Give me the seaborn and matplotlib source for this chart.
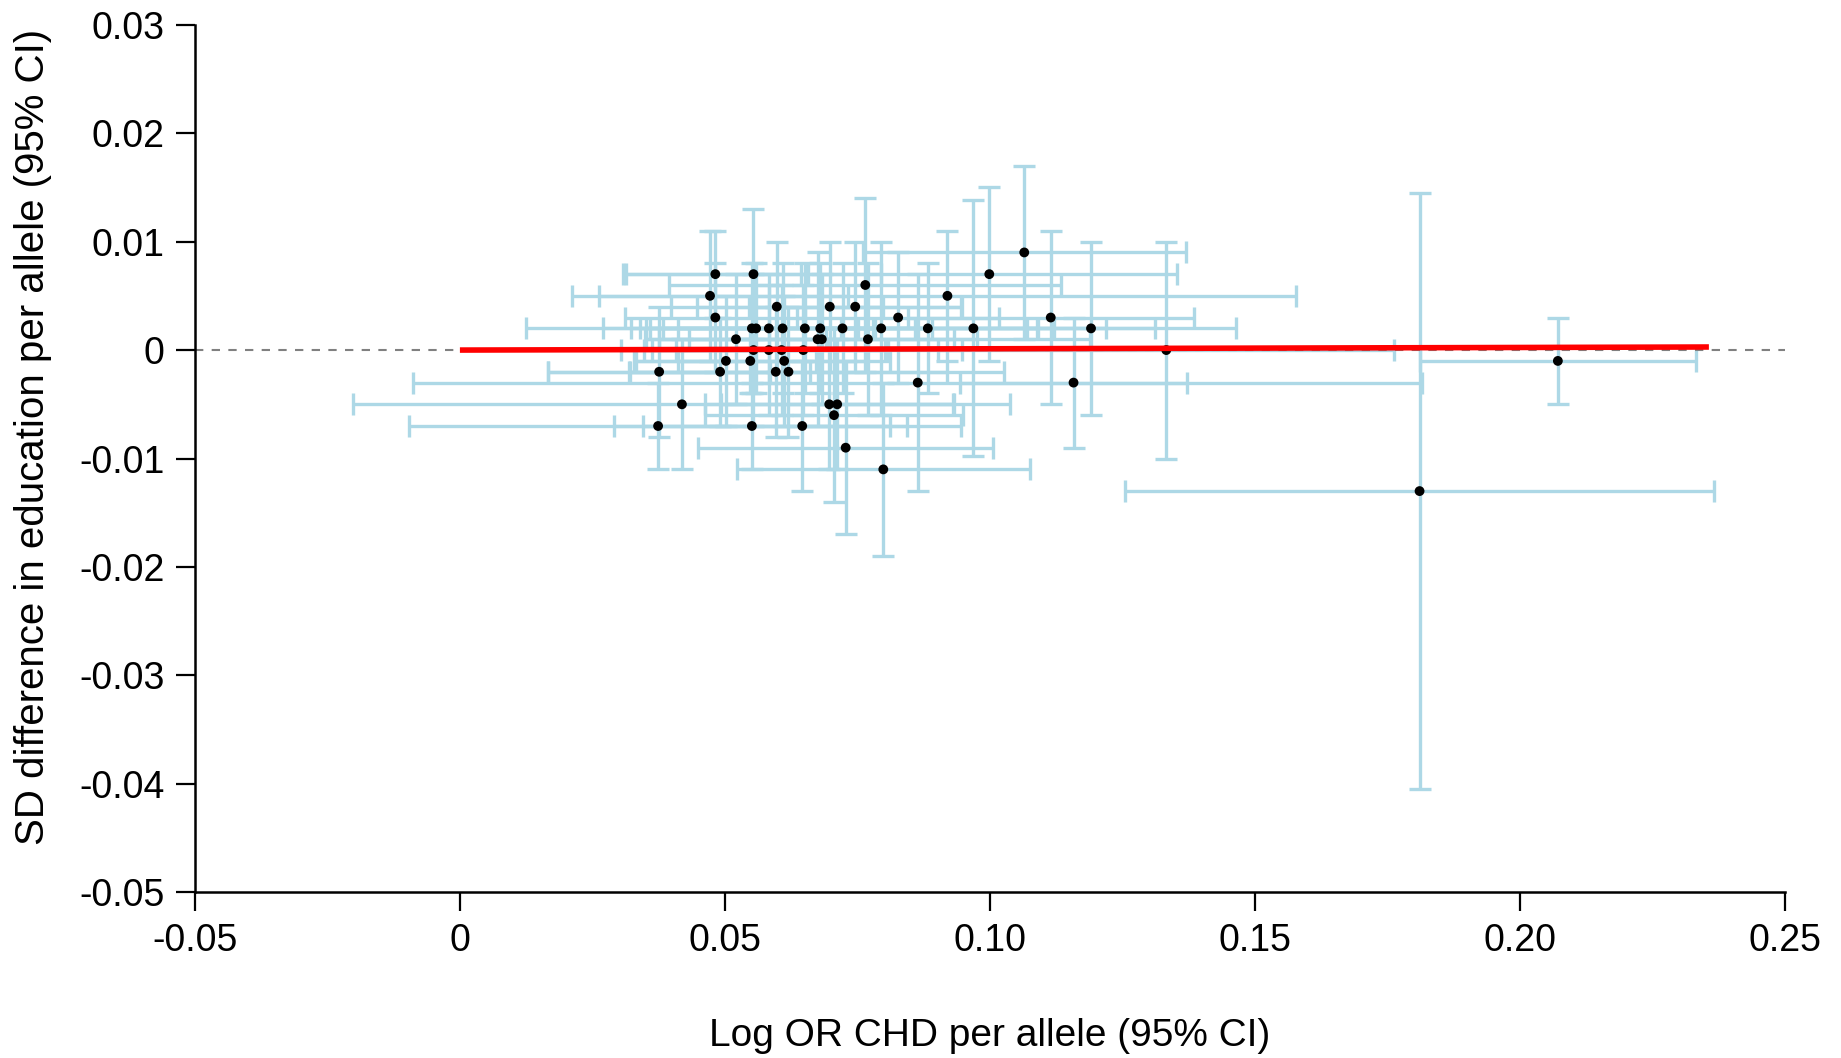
import numpy as np
import pandas as pd
import matplotlib
matplotlib.use("Agg")
import matplotlib.pyplot as plt
import seaborn as sns

# per-SNP estimates (log OR CHD, SD education)
log_or_chd = [0.0482, 0.0554, 0.0472, 0.0482, 0.0376, 0.0419, 0.0374, 0.0491,
              0.0502, 0.0521, 0.0551, 0.0559, 0.0583, 0.0548, 0.0551, 0.0598,
              0.0609, 0.0612, 0.0620, 0.0596, 0.0583, 0.0554, 0.0651, 0.0680,
              0.0675, 0.0683, 0.0648, 0.0607, 0.0646, 0.0698, 0.0722, 0.0746,
              0.0765, 0.0770, 0.0697, 0.0712, 0.0706, 0.0728, 0.0799, 0.0795,
              0.0827, 0.0864, 0.0883, 0.0920, 0.0969, 0.0999, 0.1065, 0.1115,
              0.1158, 0.1191, 0.1333, 0.1811, 0.2072]
sd_edu = [0.007, 0.007, 0.005, 0.003, -0.002, -0.005, -0.007, -0.002,
          -0.001, 0.001, 0.002, 0.002, 0.002, -0.001, -0.007, 0.004,
          0.002, -0.001, -0.002, -0.002, 0.000, 0.000, 0.002, 0.002,
          0.001, 0.001, 0.000, 0.000, -0.007, 0.004, 0.002, 0.004,
          0.006, 0.001, -0.005, -0.005, -0.006, -0.009, -0.011, 0.002,
          0.003, -0.003, 0.002, 0.005, 0.002, 0.007, 0.009, 0.003,
          -0.003, 0.002, 0.000, -0.013, -0.001]
# half widths of the 95% CIs
ci_chd = [0.0175, 0.024, 0.026, 0.017, 0.021, 0.062, 0.047, 0.017,
          0.017, 0.017, 0.020, 0.022, 0.020, 0.022, 0.026, 0.020,
          0.025, 0.020, 0.030, 0.043, 0.022, 0.025, 0.024, 0.041,
          0.030, 0.025, 0.030, 0.020, 0.030, 0.025, 0.040, 0.020,
          0.037, 0.042, 0.0234, 0.022, 0.0244, 0.0278, 0.0277, 0.067,
          0.019, 0.0952, 0.0206, 0.0657, 0.025, 0.0355, 0.0305, 0.027,
          0.0215, 0.012, 0.043, 0.0555, 0.026]
ci_edu = [0.004, 0.006, 0.006, 0.005, 0.006, 0.006, 0.004, 0.005,
          0.006, 0.006, 0.006, 0.006, 0.005, 0.003, 0.004, 0.006,
          0.006, 0.006, 0.006, 0.006, 0.006, 0.007, 0.006, 0.006,
          0.008, 0.006, 0.006, 0.006, 0.006, 0.006, 0.006, 0.006,
          0.008, 0.007, 0.006, 0.006, 0.008, 0.008, 0.008, 0.008,
          0.006, 0.010, 0.006, 0.006, 0.0118, 0.008, 0.008, 0.008,
          0.006, 0.008, 0.010, 0.0275, 0.004]

# fitted MR line
fit_x = [0.0, 0.2357]
fit_slope = 0.0012

x_ticks = [-0.05, 0, 0.05, 0.10, 0.15, 0.20, 0.25]
x_tick_labels = ["-0.05", "0", "0.05", "0.10", "0.15", "0.20", "0.25"]
y_ticks = [0.03, 0.02, 0.01, 0, -0.01, -0.02, -0.03, -0.04, -0.05]
y_tick_labels = ["0.03", "0.02", "0.01", "0", "-0.01", "-0.02", "-0.03", "-0.04", "-0.05"]

df = pd.DataFrame({"chd": log_or_chd, "edu": sd_edu,
                   "ci_chd": ci_chd, "ci_edu": ci_edu})

sns.set_style("ticks")
plt.rcParams['font.family'] = ['Liberation Sans', 'DejaVu Sans']
plt.rcParams['text.color'] = 'black'
plt.rcParams['axes.labelcolor'] = 'black'
plt.rcParams['xtick.color'] = 'black'
plt.rcParams['ytick.color'] = 'black'

fig = plt.figure(figsize=(18.41, 10.58), dpi=100)
ax = fig.add_axes([0.1059, 0.1565, 0.8635, 0.8202])

ax.errorbar(df["chd"], df["edu"], xerr=df["ci_chd"], yerr=df["ci_edu"],
            fmt="none", ecolor="#add8e6", elinewidth=2.4, capsize=8,
            capthick=2.4, zorder=1)
ax.axhline(0, color="#808080", linestyle=(0, (4, 4)), linewidth=1.5, zorder=2)
sns.scatterplot(data=df, x="chd", y="edu", ax=ax, color="black", s=50,
                edgecolor="none", zorder=3)
fx = np.array(fit_x)
ax.plot(fx, fit_slope * fx, color="red", linewidth=4, zorder=4,
        solid_capstyle="butt")

ax.set_xlim(-0.05, 0.25)
ax.set_ylim(-0.05, 0.03)
ax.set_xticks(x_ticks)
ax.set_xticklabels(x_tick_labels)
ax.set_yticks(y_ticks)
ax.set_yticklabels(y_tick_labels)
ax.tick_params(axis="both", labelsize=27, length=14, width=1.6,
               direction="out", colors="black", pad=8)
sns.despine(ax=ax)
for side in ["left", "bottom"]:
    ax.spines[side].set_linewidth(1.8)
    ax.spines[side].set_color("black")

ax.set_xlabel("Log OR CHD per allele (95% CI)", fontsize=28)
ax.set_ylabel("SD difference in education per allele (95% CI)", fontsize=29)
ax.xaxis.set_label_coords(0.5, -0.165)
ax.xaxis.label.set_va("center")
ax.yaxis.set_label_coords(-0.102, 0.525)
ax.yaxis.label.set_va("center")

fig.savefig("out.png", dpi=100)
